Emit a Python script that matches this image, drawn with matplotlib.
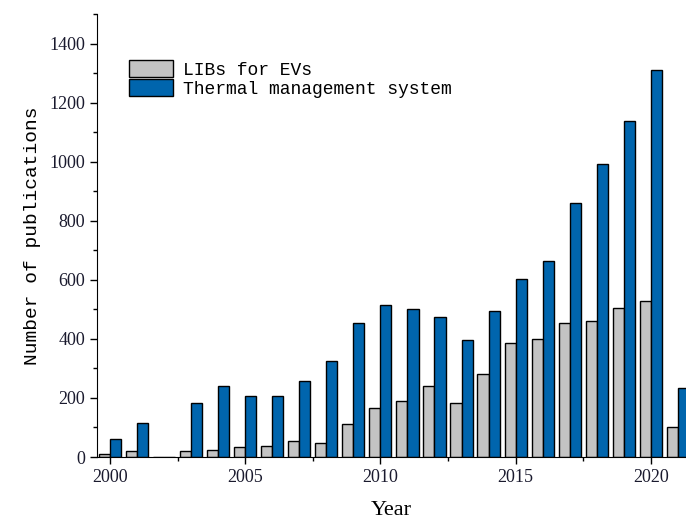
import numpy as np
import matplotlib.pyplot as plt
from matplotlib.ticker import MultipleLocator

years = np.arange(2000, 2022)
libs_evs = [10, 19, 0, 19, 23, 33, 37, 55, 46, 111, 165, 189, 240, 184,
            281, 386, 399, 455, 461, 505, 529, 101]
thermal = [60, 115, 0, 184, 239, 207, 207, 258, 325, 454, 514, 501, 474, 395,
           496, 602, 662, 859, 993, 1139, 1312, 234]

fig = plt.figure(figsize=(6.86, 5.21), dpi=100)
ax = fig.add_axes([97 / 686, 1 - 457 / 521, 1 - 97 / 686, (457 - 14) / 521])

w = 0.41
ax.bar(years - w / 2, libs_evs, width=w, color='#c3c3c3', edgecolor='black',
       linewidth=1, label='LIBs for EVs')
ax.bar(years + w / 2, thermal, width=w, color='#0065ad', edgecolor='black',
       linewidth=1, label='Thermal management system')

ax.set_xlim(1999.52, 2021.3)
ax.set_ylim(0, 1500)
ax.xaxis.set_major_locator(MultipleLocator(5))
ax.xaxis.set_minor_locator(MultipleLocator(2.5))
ax.yaxis.set_major_locator(MultipleLocator(200))
ax.yaxis.set_minor_locator(MultipleLocator(100))
ax.tick_params(which='major', direction='out', length=5, width=1)
ax.tick_params(which='minor', direction='out', length=3, width=1)

for s in ['top', 'right']:
    ax.spines[s].set_visible(False)

for lab in ax.get_xticklabels() + ax.get_yticklabels():
    lab.set_fontfamily('Liberation Serif')
    lab.set_fontsize(13)
    lab.set_color('#1a1a2e')

ax.set_xlabel('Year', fontfamily='Liberation Serif', fontsize=16, labelpad=11)
ax.set_ylabel('Number of publications', fontfamily='Liberation Mono',
              fontsize=14, labelpad=6)

ax.legend(loc='upper left', bbox_to_anchor=(0.054, 0.896), frameon=False,
          prop={'family': 'Liberation Mono', 'size': 13},
          handlelength=2.45, handleheight=1.1, labelspacing=0.0,
          handletextpad=0.55, borderaxespad=0, borderpad=0)

fig.savefig('out.png', dpi=100)
